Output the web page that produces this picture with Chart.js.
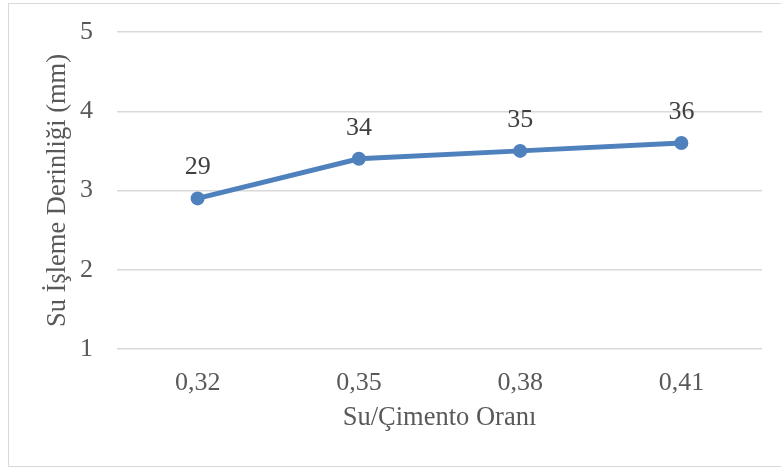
<!DOCTYPE html>
<html>
<head>
<meta charset="utf-8">
<script src="https://cdn.jsdelivr.net/npm/chart.js@4"></script>
<style>
  html, body { margin: 0; padding: 0; background: #ffffff; }
  #wrap { position: relative; width: 781px; height: 467px; }
</style>
</head>
<body>
<div id="wrap"><canvas id="chart" width="781" height="467"></canvas></div>
<script>
// Water/cement ratio categories
const categories = ['0,32', '0,35', '0,38', '0,41'];
// Water penetration depth values (labels show these values; axis reads them /10 in mm)
const depthValues = [29, 34, 35, 36];
// Axis tick labels
const yTickValues = [10, 20, 30, 40, 50];

const FONT = "'Liberation Serif', 'Times New Roman', serif";

// Outer frame around the chart
const framePlugin = {
  id: 'frame',
  beforeDraw(chart) {
    const ctx = chart.ctx;
    ctx.save();
    ctx.fillStyle = '#ffffff';
    ctx.fillRect(0, 0, chart.width, chart.height);
    ctx.strokeStyle = '#d9d9d9';
    ctx.lineWidth = 1;
    ctx.strokeRect(8.5, 3.5, chart.width + 10, chart.height - 4);
    ctx.restore();
  }
};

// Value labels above each point
const valueLabels = {
  id: 'valueLabels',
  afterDatasetsDraw(chart) {
    const ctx = chart.ctx;
    const meta = chart.getDatasetMeta(0);
    const data = chart.data.datasets[0].data;
    ctx.save();
    ctx.font = '26px ' + FONT;
    ctx.fillStyle = '#404040';
    ctx.textAlign = 'center';
    ctx.textBaseline = 'middle';
    meta.data.forEach((pt, i) => {
      ctx.fillText(String(data[i]), pt.x, pt.y - 31);
    });
    ctx.restore();
  }
};

new Chart(document.getElementById('chart'), {
  type: 'line',
  data: {
    labels: categories,
    datasets: [{
      data: depthValues,
      borderColor: '#4f81bd',
      backgroundColor: '#4f81bd',
      borderWidth: 5,
      pointRadius: 7,
      pointHoverRadius: 7,
      pointBackgroundColor: '#4f81bd',
      pointBorderWidth: 0,
      tension: 0,
      fill: false
    }]
  },
  options: {
    responsive: false,
    animation: false,
    events: [],
    layout: { padding: { left: 36, top: 32, right: 19, bottom: 22 } },
    plugins: {
      legend: { display: false },
      tooltip: { enabled: false }
    },
    scales: {
      x: {
        offset: true,
        grid: { display: false, drawTicks: false },
        border: { display: false },
        ticks: { color: '#595959', font: { family: FONT, size: 26 }, padding: 19, maxRotation: 0 },
        title: {
          display: true,
          text: 'Su/Çimento Oranı',
          color: '#595959',
          font: { family: FONT, size: 26.5 },
          padding: { top: 0, bottom: 11 }
        },
        afterFit(scale) {
          scale.height = 96;
          scale.paddingLeft = 0;
          scale.paddingRight = 0;
        }
      },
      y: {
        min: 10,
        max: 50,
        afterBuildTicks(scale) { scale.ticks = yTickValues.map(v => ({ value: v })); },
        grid: { color: '#d9d9d9', lineWidth: 1.5, drawTicks: false },
        border: { display: false },
        ticks: {
          color: '#595959',
          font: { family: FONT, size: 26 },
          padding: 24,
          callback: (v) => String(v / 10)
        },
        title: {
          display: true,
          text: 'Su İşleme Derinliği (mm)',
          color: '#595959',
          font: { family: FONT, size: 26.5 },
          padding: { top: 6, bottom: 0 }
        },
        afterFit(scale) {
          scale.width = 81;
          scale.paddingTop = 0;
          scale.paddingBottom = 0;
        }
      }
    }
  },
  plugins: [framePlugin, valueLabels]
});
</script>
</body>
</html>
